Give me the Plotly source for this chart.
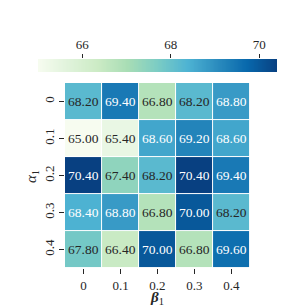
import numpy as np
import plotly.graph_objects as go
from plotly.colors import sample_colorscale, unlabel_rgb

alpha_labels = ["0", "0.1", "0.2", "0.3", "0.4"]
beta_labels = ["0", "0.1", "0.2", "0.3", "0.4"]
values = [
    [68.20, 69.40, 66.80, 68.20, 68.80],
    [65.00, 65.40, 68.60, 69.20, 68.60],
    [70.40, 67.40, 68.20, 70.40, 69.40],
    [68.40, 68.80, 66.80, 70.00, 68.20],
    [67.80, 66.40, 70.00, 66.80, 69.60],
]
cbar_ticks = [66, 68, 70]

zmin = min(min(r) for r in values)
zmax = max(max(r) for r in values)
FONT = "Liberation Serif"
DARK = "#262626"

fig = go.Figure()
fig.add_trace(go.Heatmap(
    z=values, x=beta_labels, y=alpha_labels,
    colorscale="GnBu", zmin=zmin, zmax=zmax,
    xgap=1, ygap=1, showscale=False, hoverinfo="skip",
    xaxis="x", yaxis="y",
))

def lum(v):
    t = (v - zmin) / (zmax - zmin)
    c = sample_colorscale("GnBu", [t])[0]
    r, g, b = [x / 255 for x in unlabel_rgb(c)]
    f = lambda x: x / 12.92 if x <= 0.03928 else ((x + 0.055) / 1.055) ** 2.4
    return 0.2126 * f(r) + 0.7152 * f(g) + 0.0722 * f(b)

for i, a in enumerate(alpha_labels):
    for j, b in enumerate(beta_labels):
        v = values[i][j]
        fig.add_annotation(
            x=j, y=i, xref="x", yref="y", text=f"{v:.2f}", showarrow=False,
            font=dict(family=FONT, size=13.5, color=DARK if lum(v) > 0.408 else "white"),
        )

grad = np.linspace(zmin, zmax, 300)
fig.add_trace(go.Heatmap(
    z=[grad], x=grad, y=[0], colorscale="GnBu", zmin=zmin, zmax=zmax,
    showscale=False, hoverinfo="skip", xaxis="x2", yaxis="y2",
))

axfont = dict(family=FONT, size=13, color=DARK)
fig.update_layout(
    width=307, height=307,
    margin=dict(l=30, r=38, t=32, b=47, autoexpand=False),
    paper_bgcolor="white", plot_bgcolor="white",
    showlegend=False,
    font=dict(family=FONT, size=13, color=DARK),
    xaxis=dict(domain=[0.113, 0.887], type="category", anchor="y", automargin=False,
               ticks="outside", ticklen=5, tickcolor=DARK, showgrid=False,
               zeroline=False, showline=False, tickfont=axfont),
    yaxis=dict(domain=[0.0, 0.8114], type="category", anchor="x", autorange="reversed",
               automargin=False,
               ticks="outside", ticklen=5, tickcolor=DARK, tickangle=-90, showgrid=False,
               zeroline=False, showline=False, tickfont=axfont),
    xaxis2=dict(domain=[0.0, 1.0], anchor="y2", side="top", range=[zmin, zmax],
                automargin=False,
                tickvals=cbar_ticks, ticks="outside", ticklen=4, tickcolor=DARK,
                showgrid=False, zeroline=False, showline=False, tickfont=axfont),
    yaxis2=dict(domain=[0.8596, 0.9167], anchor="x2", range=[-0.5, 0.5], automargin=False,
                showticklabels=False, ticks="", showgrid=False, zeroline=False),
)

fig.add_annotation(x=-0.025, y=0.399, xref="paper", yref="paper",
                   xanchor="center", yanchor="middle",
                   text="<i>α</i><sub>1</sub>", textangle=-90, showarrow=False,
                   font=dict(family=FONT, size=15, color=DARK))
fig.add_annotation(x=0.498, y=-0.1316, xref="paper", yref="paper",
                   xanchor="center", yanchor="middle",
                   text="<b><i>β</i></b><sub>1</sub>", showarrow=False,
                   font=dict(family=FONT, size=15, color=DARK))

fig.write_html("out.html")
